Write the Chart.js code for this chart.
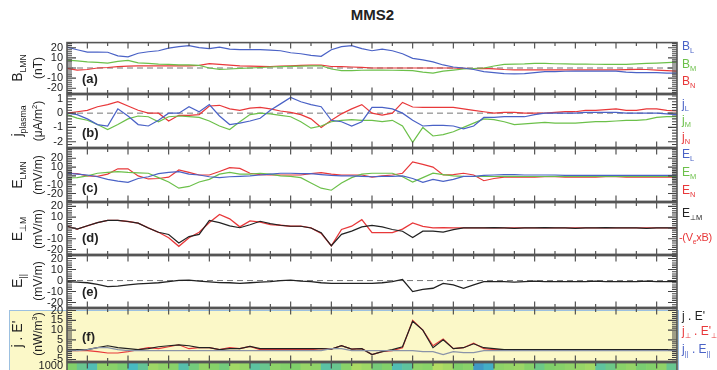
<!DOCTYPE html>
<html>
<head>
<meta charset="utf-8">
<script src="https://cdn.jsdelivr.net/npm/chart.js@4.4.1/dist/chart.umd.min.js"></script>
<style>
  body { margin: 0; background: #fff; }
  #fig { position: relative; width: 717px; height: 370px; overflow: hidden;
         font-family: "Liberation Sans", Arial, sans-serif; color: #222; }
  #fig canvas { position: absolute; left: 0; }
  #hl { position: absolute; left: 9px; top: 310px; width: 670px; height: 80px;
        box-sizing: border-box; background: #fbf8c8; border: 1px solid #9cc0e0; }
  .rot { position: absolute; width: 120px; height: 16px; line-height: 16px; text-align: center;
         transform: rotate(-90deg); white-space: nowrap; }
  .lab { position: absolute; white-space: nowrap; font-size: 12px; line-height: 16px; }
  .let { position: absolute; font-size: 13px; font-weight: bold; line-height: 16px; }
  sub, sup { font-size: 62%; line-height: 0; }
  #title { position: absolute; left: 0; width: 745px; top: 6px; text-align: center;
           font-weight: bold; font-size: 15px; }
</style>
</head>
<body>
<div id="fig">
  <div id="hl"></div>
  <div id="title">MMS2</div>
</div>
<script>
// samples every half tick, 30 ticks across the plot
const STEP = 0.5;

// (a) B LMN, nT
const bL = [20.5,18,15.7,15.7,15.5,12,10.9,14.5,16,17, 19.5,21,22,20,19,20.5,18.5,18,18,18,
  17.5,17,15,14,12.5,11.5,18,21,22,19, 17,18.5,17,14,9.5,8,6,3,1,0,
  -1.5,-3.5,-4.5,-5.5,-5.8,-5.5,-4.5,-3.5,-3.5,-3.2, -3,-3,-3,-3,-3,-4,-4.5,-4.5,-4.5,-5, -5];
const bM = [7.7,7,6,5.5,4.8,6.5,7.5,5,4.5,3.8, 3.5,3,3,2.5,0,-1.3,-1,-0.3,0,0.5,
  1,1.3,1.6,1.8,2,2.2,-1,-2.6,-2.5,-2.2, -2,-2,-2.2,-2.4,-2.6,-4,-5,-3,-2,-1,
  -0.5,0,2,3.5,3.8,4,4.5,4.5,4.2,4, 3.8,3.8,3.7,3.5,3.5,3.6,4,4.5,4.8,5.3, 5.8];
const bN = [-0.3,-2,-1.5,0,0.5,1.3,1.8,2,2,2, 2,2,2,2.5,4.3,3.5,2.9,2,1.8,1.6,
  1.5,1.8,2.2,2.6,2.9,2.9,1.5,1.3,1,0.6, 0,0,0,0,0,0,0,0,0,-0.3,
  -0.6,-0.3,-0.8,-1.5,-1.9,-1.9,-1.9,-1.9,-1.9,-1.9, -1.9,-1.9,-1.9,-1.9,-1.9,-1.6,-1.3,-1.5,-2,-2.5, -3];

// (b) j plasma, uA/m2
const jL = [0,-0.1,-0.4,-0.8,-0.9,0.3,-0.2,-0.8,-0.9,-0.5, 0,0,0.45,0.1,0.6,-0.2,-0.8,-0.7,-0.55,-0.36,
  0.2,0.65,1.1,0.8,0.6,0.45,-0.5,-0.6,-0.9,-0.6, 0.4,0.4,0.3,0,-0.5,-0.9,-0.85,-0.85,-0.9,-1.1,
  -0.9,-0.3,-0.3,-0.25,-0.25,-0.25,-0.1,0,0,0, 0,0.05,0.05,0.05,0.05,0,0,0,0,-0.05, -0.1];
const jM = [-0.1,-0.35,-0.5,-0.8,-1.15,-0.8,-0.4,-0.2,-0.25,-0.6, -0.25,-0.2,-0.25,-0.3,-0.55,-0.9,-1.15,-0.6,-0.1,0,
  -0.05,-0.15,-0.25,-0.6,-1.05,-0.9,-0.6,-0.5,-0.45,-0.5, -0.5,-0.6,-0.5,-0.9,-2.05,-1.0,-1.6,-1.5,-1.3,-1.0,
  -0.7,-0.4,-0.45,-0.6,-0.8,-0.75,-0.7,-0.65,-0.7,-0.7, -0.7,-0.65,-0.6,-0.6,-0.55,-0.5,-0.5,-0.45,-0.3,-0.25, -0.25];
const jN = [0,0.1,0.2,0.45,0.6,0.8,0.5,0.2,0,0, -0.55,-0.15,-0.15,-0.1,0.5,0.55,0.3,0.2,0.35,0.4,
  0.3,0.15,0.05,-0.1,-0.4,-1.0,-0.5,-0.05,0.3,0.6, 0,-0.14,0,0.75,0.43,0.4,0.4,0.4,0.4,0.3,
  0.2,0.1,0,0.05,0.05,0,0,0,0.05,0.1, 0.1,0.2,0.2,0.25,0.3,0.2,0.2,0.3,0.3,0.2, 0.15];

// (c) E LMN, mV/m
const eL = [3,2,1,-1,-4,-6,-7.4,-3,-1,2.5, 4,4.8,2,1,-1,-2,-1,-0.5,0,1,
  2,3,3,2.5,2.5,1.5,0.5,0,0,-0.5, -1,-0.5,-0.5,0,-3,-7.4,-4,-6.3,-4,-0.5,
  -0.5,0.5,1,1.5,1.5,1,1,1,1,0.5, 0.5,0.5,0.5,0.5,0.5,0.5,0.5,0.5,0.5,0.5, 0.5];
const eM = [-2.2,-2,0,3,4,4.8,4,3.5,3,-2, -7,-14,-12,-7,-4,2,4,2,2,3,
  2,0,-0.5,-2,-8,-14,-16.3,-8,-2,2, 3,3,3,-1,-7,-2,3,1.5,0,-0.5,
  -0.7,-0.7,-0.7,-0.5,-0.5,-0.7,-0.7,-0.7,-0.5,-0.5, -0.5,-0.7,-0.7,-0.7,-0.7,-0.5,-0.5,-0.5,-0.7,-0.7, -0.7];
const eN = [3,2.5,0,-0.5,2,8,8,0,-3.5,-3, -1.5,6.7,4,1,1,5,9.3,8.5,3,1.5,
  1,1,1,1,2.5,3.7,2,1,1,1, -1.5,0,1,3,15.9,13,10,1,1.5,3,
  1,-5.5,-3,-1.5,-1.5,-1.5,-1.5,-1,-1,-1.5, -1.5,-1.5,-1.5,-1,-1,-1.5,-1.5,-1.5,-1.5,-1.5, -1.5];

// (d) E perp M and -(Ve x B), mV/m
const ePerp = [1.6,-1,2,5,7,7,6,4.5,0,-4, -6,-14,-8,-6,7,5,2,0.2,3,6.2,
  4,2.5,1.6,1.6,0,-4.4,-16.5,-5.9,-2.9,1, 2.3,1,-1.4,-3,-8.9,-3,-3,-3.8,-1.5,0,
  0,0,0.3,0,-0.3,0,0,0.3,0,0, -0.3,0,0,0.3,0,0,0,-0.3,0,0, 0];
const veB = [1.6,-1,2,5,7,7,6,4.5,0,-4, -9,-17,-9,-4,5,12.5,8.5,1,6.5,5.5,
  3,2.5,1.6,1.6,0,-5,-16.5,-1.4,1.6,7.7, -4.4,-4.4,-4.4,-1,4.7,1.5,0,0.3,0,0,
  0,0,0,0,0,0,0,0,0,0, 0,0,0,0,0,0,0,0,0,0, 0];

// (e) E parallel, mV/m
const ePar = [-1,-1.5,-2,-3.5,-5.5,-5,-4,-3,-2.5,-2, -1,0.2,0.4,-0.6,-1.2,-1.9,-2,-2.5,-2,-1.5,
  -1,0,0.4,-0.5,-1,-2,-2.5,-2.5,-2.5,-2.5, -2.5,-2,-1,1,-10,-8,-7,-2.5,-4,-7,
  -4,-1,-1,-1,-1.5,-1,-0.5,-1,-1,-1, -1,-1,-0.5,-1,-1,-1,-1,-0.5,-1,-1, -1];

// (f) j . E', nW/m3
const jE = [-0.5,0,0,1,2,1,0.5,0,0.5,1.5, 2,2.5,2,1,1,0,0.5,0.5,1.7,0.5,
  0.5,0.5,0.5,0.5,0.5,0.5,0.3,2,0.3,0.5, -2.5,-1,0,1.5,14.5,10,1,5,0.5,1,
  3,1,0.5,0,0,0,0,0,0,0, 0,0,0,0,0,0,0,0,0,0, 0];
const jPerpE = [-0.5,-0.5,-0.5,-1,-1.7,-1.7,-1,0,1,0.5, 1.5,2.5,0.5,1,1,0,1,0.5,1.7,0,
  0,0,0,0,0,0.5,0.3,2,0.3,0.5, -2.5,-1,-0.5,1,15,10,2,5.5,0.5,1,
  3.3,0.5,0,0,0,0,0,0,0,0, 0,0,0,0,0,0,0,0,0,0, 0];
const jParE = [-0.5,-0.5,0,1,1,0,-0.5,-0.5,-0.5,-0.5, -0.5,-0.5,-0.5,-0.5,-0.5,-0.5,-0.5,-0.5,-0.5,-0.5,
  -0.5,-0.5,-0.5,-0.5,-0.5,-0.5,0.5,0.5,-0.5,-0.5, -0.5,-0.5,-0.5,-0.5,-0.5,-1,-1,-2.5,-1,-1.5,
  -1.5,-0.5,-0.5,-0.5,-0.5,-0.5,-0.5,-0.5,-0.5,-0.5, -0.5,-0.5,-0.5,-0.5,-0.5,-0.5,-0.5,-0.5,-0.5,-0.5, -0.5];

// bottom spectrogram strip (only its top edge is visible), relative intensity
const stripIntensity = [0.62,0.5,0.4,0.7,0.66,0.58,0.36,0.48,0.78,0.7, 0.66,0.42,0.55,0.72,0.64,0.55,0.8,0.74,0.45,0.5,
  0.68,0.62,0.6,0.74,0.7,0.44,0.5,0.66,0.85,0.78, 0.56,0.62,0.4,0.46,0.7,0.66,0.9,0.82,0.6,0.66,
  0.2,0.3,0.68,0.72,0.76,0.64,0.52,0.6,0.64,0.7, 0.74,0.8,0.46,0.52,0.66,0.72,0.58,0.62,0.7,0.5];

// tick labels
const ticksA = [20, 10, 0, -10, -20];
const ticksB = [1, 0, -1, -2];
const ticksC = [20, 10, 0, -10, -20];
const ticksD = [20, 10, 0, -10, -20];
const ticksE = [20, 10, 0, -10, -20];
const ticksF = [20, 15, 10, 5, 0, -5];
const ticksStrip = [1000];

const BLUE = '#4a62c6', GREEN = '#6cc04a', RED = '#e8383a', BLACK = '#222', GREY = '#8a93a8';
const PAD = 10;
const FONT = '"Liberation Sans", Arial, sans-serif';
const fig = document.getElementById('fig');

// frame, inward ticks and the dashed zero line
const framePlugin = {
  id: 'frame',
  beforeDatasetsDraw(chart, args, opts) {
    if (!opts.zero) return;
    const { ctx, chartArea: a } = chart;
    const y0 = chart.scales.y.getPixelForValue(0);
    ctx.save();
    ctx.setLineDash([6, 4]);
    ctx.strokeStyle = '#777';
    ctx.lineWidth = 1;
    ctx.beginPath(); ctx.moveTo(a.left, y0); ctx.lineTo(a.right, y0); ctx.stroke();
    ctx.restore();
  },
  afterDatasetsDraw(chart, args, opts) {
    const { ctx, chartArea: a } = chart;
    const ys = chart.scales.y;
    ctx.save();
    ctx.strokeStyle = '#444';
    ctx.lineWidth = 1.1;
    ctx.beginPath();
    // x ticks on top and bottom edges
    for (let k = 1; k < 30; k++) {
      const x = a.left + k * a.width / 30;
      const len = k % 2 ? 6 : 3.5;
      ctx.moveTo(x, a.top); ctx.lineTo(x, a.top + len);
      ctx.moveTo(x, a.bottom); ctx.lineTo(x, a.bottom - len);
    }
    // y ticks on left and right edges
    if (opts.minor) {
      const n0 = Math.ceil(ys.min / opts.minor), n1 = Math.floor(ys.max / opts.minor);
      for (let n = n0; n <= n1; n++) {
        const v = +(n * opts.minor).toFixed(4);
        const y = ys.getPixelForValue(v);
        const len = opts.major.includes(v) ? 9 : 5;
        ctx.moveTo(a.left, y); ctx.lineTo(a.left + len, y);
        ctx.moveTo(a.right, y); ctx.lineTo(a.right - len, y);
      }
    }
    ctx.stroke();
    ctx.strokeStyle = '#555';
    ctx.lineWidth = 1.6;
    ctx.strokeRect(a.left, a.top, a.width, a.height);
    ctx.restore();
  }
};

function makeCanvas(top, bottom, padBottom) {
  const c = document.createElement('canvas');
  c.width = 717;
  c.height = bottom - top + PAD + padBottom;
  c.style.top = (top - PAD) + 'px';
  fig.appendChild(c);
  return c;
}

function yAxis(min, max, tickVals) {
  return {
    min: min, max: max,
    afterFit(s) { s.width = 67; },
    afterBuildTicks(s) { s.ticks = tickVals.map(v => ({ value: v })); },
    grid: { display: false, drawTicks: false },
    border: { display: false },
    ticks: { autoSkip: false, padding: 4, color: '#222', font: { size: 11, family: FONT },
             callback: v => String(v) }
  };
}

function panel(top, bottom, min, max, tickVals, minor, zero, series) {
  const c = makeCanvas(top, bottom, PAD);
  return new Chart(c, {
    type: 'line',
    data: {
      datasets: series.map(s => ({
        data: s[0].map((v, i) => ({ x: i * STEP, y: v })),
        borderColor: s[1],
        borderWidth: s[2] || 1.2,
        pointRadius: 0,
        tension: 0,
        fill: false
      }))
    },
    options: {
      responsive: false,
      animation: false,
      events: [],
      layout: { padding: { top: PAD, bottom: PAD, left: 0, right: 40 } },
      plugins: {
        legend: { display: false },
        tooltip: { enabled: false },
        frame: { zero: zero, minor: minor, major: tickVals }
      },
      scales: {
        x: { type: 'linear', min: 0, max: 30, display: false },
        y: yAxis(min, max, tickVals)
      }
    },
    plugins: [framePlugin]
  });
}

panel(42, 94, -25, 25, ticksA, 2, true, [[bL, BLUE], [bM, GREEN], [bN, RED]]);
panel(94, 148, -2.4, 1.3, ticksB, 0.2, true, [[jL, BLUE], [jM, GREEN], [jN, RED]]);
panel(148, 202, -29, 31, ticksC, 2, false, [[eL, BLUE], [eM, GREEN], [eN, RED]]);
panel(202, 255, -24.5, 23.5, ticksD, 2, false, [[ePerp, BLACK, 1.2], [veB, RED, 1.3]]);
panel(255, 308, -24.4, 22.7, ticksE, 2, true, [[ePar, BLACK, 1.3]]);
panel(308, 362, -6, 21, ticksF, 1, false, [[jParE, GREY], [jE, BLACK], [jPerpE, RED]]);

// spectrogram strip colour map
function stripColor(v) {
  const stops = [[0, [58, 111, 196]], [0.35, [69, 185, 198]], [0.6, [127, 207, 106]], [1, [196, 224, 96]]];
  let i = 1;
  while (i < stops.length - 1 && v > stops[i][0]) i++;
  const [p0, c0] = stops[i - 1], [p1, c1] = stops[i];
  const t = Math.min(1, Math.max(0, (v - p0) / (p1 - p0)));
  return 'rgb(' + c0.map((c, k) => Math.round(c + (c1[k] - c) * t)).join(',') + ')';
}

new Chart(makeCanvas(362, 406, 0), {
  type: 'bar',
  data: {
    labels: stripIntensity.map((v, i) => i),
    datasets: [{
      data: stripIntensity.map(() => [0, 1100]),
      backgroundColor: stripIntensity.map(stripColor),
      barPercentage: 1,
      categoryPercentage: 1,
      borderWidth: 0
    }]
  },
  options: {
    responsive: false,
    animation: false,
    events: [],
    layout: { padding: { top: PAD, bottom: 0, left: 0, right: 40 } },
    plugins: { legend: { display: false }, tooltip: { enabled: false }, frame: {} },
    scales: {
      x: { display: false },
      y: yAxis(0, 1100, ticksStrip)
    }
  },
  plugins: [framePlugin]
});

// text: axis titles, legends, panel letters
function addDiv(cls, html, css) {
  const d = document.createElement('div');
  d.className = cls;
  d.innerHTML = html;
  Object.assign(d.style, css);
  fig.appendChild(d);
}

const titles = [
  ['B<sub>LMN</sub>', '(nT)', 68],
  ['j<sub>plasma</sub>', '(&mu;A/m<sup>2</sup>)', 121],
  ['E<sub>LMN</sub>', '(mV/m)', 175],
  ['E<sub>&perp;M</sub>', '(mV/m)', 229],
  ['E<sub>||</sub>', '(mV/m)', 281],
  ["j . E'", '(nW/m<sup>3</sup>)', 334]
];
titles.forEach(t => {
  addDiv('rot', t[0], { left: (17 - 60) + 'px', top: (t[2] - 8) + 'px', fontSize: '14px' });
  addDiv('rot', t[1], { left: (38 - 60) + 'px', top: (t[2] - 8) + 'px', fontSize: '12px' });
});

const letters = [['(a)', 79], ['(b)', 133], ['(c)', 188], ['(d)', 238], ['(e)', 292], ['(f)', 337]];
letters.forEach(l => addDiv('let', l[0], { left: '82px', top: (l[1] - 8) + 'px' }));

const legendItems = [
  ['B<sub>L</sub>', BLUE, 46], ['B<sub>M</sub>', GREEN, 64], ['B<sub>N</sub>', RED, 81],
  ['j<sub>L</sub>', BLUE, 104], ['j<sub>M</sub>', GREEN, 120], ['j<sub>N</sub>', RED, 137],
  ['E<sub>L</sub>', BLUE, 154], ['E<sub>M</sub>', GREEN, 172], ['E<sub>N</sub>', RED, 190],
  ['E<sub>&perp;M</sub>', BLACK, 213], ['-(V<sub>e</sub>xB)', RED, 237],
  ["j . E'", BLACK, 316], ["j<sub>&perp;</sub> . E'<sub>&perp;</sub>", RED, 331],
  ['j<sub>||</sub> . E<sub>||</sub>', BLUE, 349]
];
legendItems.forEach(l => {
  const long = l[0].startsWith('-(');
  addDiv('lab', l[0], {
    left: (long ? 679 : 682) + 'px', top: (l[2] - 8) + 'px', color: l[1],
    fontSize: long ? '11px' : '12px', letterSpacing: long ? '-0.3px' : '0'
  });
});
</script>
</body>
</html>
